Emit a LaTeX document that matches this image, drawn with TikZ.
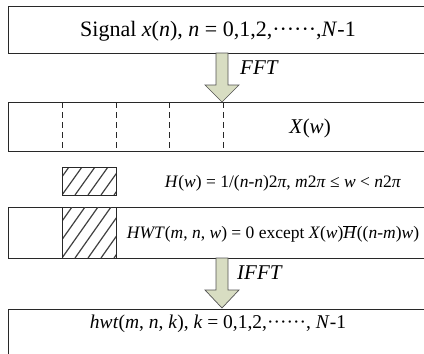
\documentclass[tikz,border=0pt]{standalone}
\usepackage{fontspec}
\setmainfont{Liberation Serif}
\definecolor{arrfill}{RGB}{216,221,194}
\definecolor{linecol}{RGB}{40,40,40}
\tikzset{
  box/.style={draw=linecol, line width=1.1pt, rectangle, inner sep=0pt, anchor=north west},
  bigarrow/.style={draw=linecol!80, line width=0.7pt, fill=arrfill},
  divider/.style={draw=linecol, line width=0.8pt, dash pattern=on 6pt off 4pt},
  hatchbox/.style={draw=linecol, line width=0.8pt},
  hatch/.style={draw=black!75, line width=1.2pt},
  lbl/.style={inner sep=0pt, anchor=center}
}
\begin{document}
\begin{tikzpicture}[x=1pt,y=-1pt]
\useasboundingbox (0,0) rectangle (424,354);
\clip (0,0) rectangle (424,354);
% boxes
\node[box, minimum width=440pt, minimum height=47pt] (b1) at (8,6) {};
\node[box, minimum width=440pt, minimum height=49pt] (b2) at (8,102) {};
\node[box, minimum width=440pt, minimum height=51pt] (b3) at (8,207) {};
\node[box, minimum width=440pt, minimum height=60pt] (b4) at (8,309) {};
% texts
\node[lbl, font=\fontsize{22}{26}\selectfont] (t1) at (218,31) {Signal \textit{x}(\textit{n}), \textit{n} = 0,1,2,······,\textit{N}-1};
\node[lbl, font=\fontsize{21}{25}\selectfont] (t2) at (310,128) {\textit{X}(\textit{w})};
\node[lbl, font=\fontsize{17.5}{20}\selectfont] (t3) at (283,183) {\textit{H}(\textit{w}) = 1/(\textit{n}-\textit{n})2\textit{π}, \textit{m}2\textit{π} ≤ \textit{w} < \textit{n}2\textit{π}};
\node[lbl, font=\fontsize{17.5}{20}\selectfont] (t4) at (273,234) {\textit{HWT}(\textit{m}, \textit{n}, \textit{w}) = 0 except \textit{X}(\textit{w})$\overline{\hbox{\textit{H}}}$((\textit{n}-\textit{m})\textit{w})};
\node[lbl, font=\fontsize{19.5}{23}\selectfont] (t5) at (218,324) {\textit{hwt}(\textit{m}, \textit{n}, \textit{k}), \textit{k} = 0,1,2,······, \textit{N}-1};
\node[lbl, font=\fontsize{21}{25}\selectfont, anchor=west] (f1) at (240,68) {\textit{FFT}};
\node[lbl, font=\fontsize{21}{25}\selectfont, anchor=west] (f2) at (237,273) {\textit{IFFT}};
% dashed dividers
\foreach \x in {62,116,169,223} \draw[divider] (\x,102) -- (\x,151);
% hatched small box
\node[hatchbox, rectangle, inner sep=0pt, minimum width=54pt, minimum height=28pt, anchor=north west] (h1) at (62,167) {};
\begin{scope}
\clip (62,167) rectangle (116,195);
\foreach \i in {-2,...,6} \draw[hatch] (62+\i*13,195) -- ++(20,-28);
\end{scope}
\draw[hatchbox] (62,167) rectangle (116,195);
% hatched region in box 3
\node[rectangle, inner sep=0pt, minimum width=54pt, minimum height=51pt, anchor=north west] (h2) at (62,207) {};
\begin{scope}
\clip (62,207) rectangle (116,258);
\foreach \i in {-4,...,6} \draw[hatch] (62+\i*13,258) -- ++(36,-51);
\end{scope}
\draw[hatchbox] (62,207) -- (62,258) (116,207) -- (116,258);
% arrows
\draw[bigarrow] (216,53) -- (228,53) -- (228,85) -- (239,85) -- (222,102) -- (205,85) -- (216,85) -- cycle;
\draw[bigarrow] (216,258) -- (228,258) -- (228,290) -- (239,290) -- (222,308) -- (205,290) -- (216,290) -- cycle;
\end{tikzpicture}
\end{document}
